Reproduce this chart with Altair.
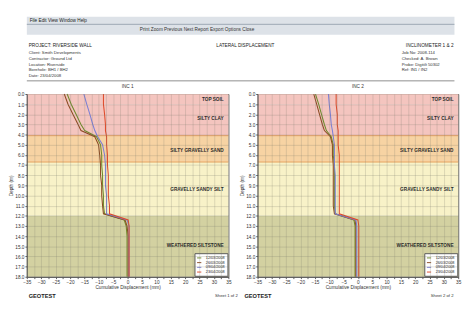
import altair as alt
import pandas as pd

# ---------------- data ----------------
layer_names = ["TOP SOIL", "SILTY CLAY", "SILTY GRAVELLY SAND", "GRAVELLY SANDY SILT", "WEATHERED SILTSTONE"]
layer_top = [0.0, 1.0, 4.1, 6.7, 12.0]
layer_bottom = [1.0, 4.1, 6.7, 12.0, 18.0]
layer_colors = ["#f4c5bf", "#f4c5bf", "#f7d3a3", "#f8f2c8", "#d3d1a1"]
label_depth = [0.5, 2.4, 5.5, 9.4, 14.9]
boundary_depths = [4.1, 6.7]

depths = [0, 1, 2, 3, 3.6, 4.2, 5, 6, 7, 8, 9, 10, 11, 11.8, 12.4, 13, 14, 15, 16, 17, 18]
series_names = ["12/03/2008", "26/03/2008", "09/04/2008", "23/04/2008"]
series_colors = ["#6f8a2c", "#8c4a22", "#7b7fd6", "#e04a2a"]

left_green = [-21.0, -19.6, -17.9, -16.2, -14.9, -10.8, -9.4, -9.0, -9.0, -8.7, -8.7, -8.4, -8.4, -8.0, -1.2, -0.5, -0.2, -0.2, -0.2, -0.2, -0.2]
left_brown = [-22.0, -20.7, -19.0, -17.2, -16.2, -11.4, -10.1, -9.7, -9.4, -9.4, -9.0, -9.0, -8.7, -8.4, -0.9, -0.2, 0.2, 0.2, 0.2, 0.2, 0.2]
left_blue = [-15.2, -14.2, -13.1, -12.1, -11.4, -10.4, -8.7, -8.0, -7.7, -7.7, -7.7, -7.3, -7.3, -7.3, -0.2, 0.5, 0.5, 0.5, 0.5, 0.5, 0.5]
left_red = [-8.4, -8.4, -8.0, -7.7, -7.7, -7.3, -7.3, -7.0, -7.0, -6.7, -6.7, -6.7, -6.3, -6.3, 0.2, 0.5, 0.5, 0.5, 0.5, 0.5, 0.5]

right_green = [-14.8, -13.7, -12.7, -11.7, -11.0, -9.3, -8.6, -8.6, -8.2, -8.2, -8.2, -8.2, -8.2, -7.9, -1.4, -1.0, -1.0, -1.0, -1.0, -1.0, -1.0]
right_brown = [-15.4, -14.4, -13.4, -12.4, -11.7, -9.6, -8.9, -8.9, -8.6, -8.6, -8.6, -8.6, -8.6, -8.2, -1.0, -0.7, -0.7, -0.7, -0.7, -0.7, -0.7]
right_blue = [-10.3, -10.0, -9.6, -9.3, -8.9, -8.6, -8.2, -8.2, -8.2, -7.9, -7.9, -7.9, -7.9, -7.9, -0.7, -0.4, -0.4, -0.4, -0.4, -0.4, -0.4]
right_red = [-7.6, -7.6, -7.2, -7.2, -6.9, -6.9, -6.9, -6.5, -6.5, -6.5, -6.5, -6.5, -6.5, -6.5, 0.0, 0.3, 0.3, 0.3, 0.3, 0.3, 0.3]

x_domain = [-35, 35]
x_tick_values = [v / 2 for v in range(-70, 71, 5)]
y_tick_values = list(range(0, 19))

panel_titles = ["INC 1", "INC 2"]
x_title = "Cumulative Displacement (mm)"
y_title = "Depth (m)"

menu_text = "File   Edit   View   Window   Help"
toolbar_text = "Print      Zoom      Previous      Next      Report      Export      Options      Close"
header_left_title = "PROJECT: RIVERSIDE WALL"
header_left_lines = "Client: Smith Developments\nContractor: Ground Ltd\nLocation: Riverside\nBorehole: BH1 / BH2\nDate: 23/04/2008"
header_center = "LATERAL DISPLACEMENT"
header_right_title = "INCLINOMETER 1 & 2"
header_right_lines = "Job No: 2008-114\nChecked: A. Brown\nProbe: Digitilt 50302\nRef: IN1 / IN2"
footer_left = ["GEOTEST", "GEOTEST"]
footer_right = ["Sheet 1 of 2", "Sheet 2 of 2"]

PW = [214, 213]
PH = 194

bands_df = pd.DataFrame({"layer": layer_names, "top": layer_top, "bottom": layer_bottom,
                         "fillc": layer_colors, "ld": label_depth})
bound_df = pd.DataFrame({"d": boundary_depths})


def series_df(cols):
    rows = []
    for name, vals in zip(series_names, cols):
        for d, v in zip(depths, vals):
            rows.append({"series": name, "depth": d, "disp": v})
    return pd.DataFrame(rows)


yscale = alt.Scale(domain=[0, 18], reverse=True, nice=False)
xscale = alt.Scale(domain=x_domain, nice=False)

axis_common = dict(labelFontSize=5, titleFontSize=5, tickSize=2, labelPadding=1, titlePadding=1,
                   gridColor="#7a7a6a", gridOpacity=0.4, gridWidth=0.6, domainColor="#555",
                   tickColor="#555", labelColor="#333", titleColor="#333", zindex=1,
                   titleFontWeight="normal", labelOverlap=False, labelBound=False, labelFlush=False)

yaxis = alt.Axis(values=y_tick_values, format=".1f", **axis_common)


def panel(i, cols):
    W = PW[i]
    bands = alt.Chart(bands_df).mark_rect().encode(
        y=alt.Y("top:Q", scale=yscale, title=y_title, axis=yaxis),
        y2="bottom:Q",
        x=alt.value(0), x2=alt.value(W),
        fill=alt.Fill("fillc:N", scale=None),
    )
    rules = alt.Chart(bound_df).mark_rule(color="#e39a52", strokeWidth=1, opacity=0.9).encode(
        y=alt.Y("d:Q", scale=yscale, title=y_title, axis=yaxis), x=alt.value(0), x2=alt.value(W))
    labels = alt.Chart(bands_df).mark_text(align="right", baseline="middle", fontSize=5,
                                           fontWeight="bold", color="#2a2a2a", dx=-5).encode(
        y=alt.Y("ld:Q", scale=yscale, title=y_title, axis=yaxis), x=alt.value(W), text="layer:N")
    lines = alt.Chart(series_df(cols)).mark_line(strokeWidth=1.1).encode(
        x=alt.X("disp:Q", scale=xscale, title=x_title,
                axis=alt.Axis(values=x_tick_values,
                              labelExpr="datum.value % 5 == 0 ? datum.label : ''",
                              **axis_common)),
        y=alt.Y("depth:Q", scale=yscale, title=y_title, axis=yaxis),
        color=alt.Color("series:N", scale=alt.Scale(domain=series_names, range=series_colors),
                        legend=alt.Legend(title=None, orient="bottom-right", fillColor="white",
                                          strokeColor="#555", padding=2, labelFontSize=4,
                                          symbolType="stroke", symbolSize=20, symbolStrokeWidth=1,
                                          rowPadding=0, offset=1, labelColor="#222")),
        order="depth:Q",
    )
    return alt.layer(bands, rules, labels, lines).properties(
        width=W, height=PH,
        title=alt.TitleParams(panel_titles[i], fontSize=5, offset=3, color="#333", fontWeight="normal"))


left = panel(0, [left_green, left_brown, left_blue, left_red])
right = panel(1, [right_green, right_brown, right_blue, right_red])

panels = alt.hconcat(left, right, spacing=7).resolve_scale(color="independent")

one = pd.DataFrame({"a": [0]})
TW = 454

chrome = alt.layer(
    alt.Chart(one).mark_rect(color="#dde2e8").encode(x=alt.value(0), x2=alt.value(TW), y=alt.value(0), y2=alt.value(19)),
    alt.Chart(one).mark_rule(color="#9aa6b3").encode(x=alt.value(0), x2=alt.value(TW), y=alt.value(8)),
    alt.Chart(one).mark_text(align="left", baseline="middle", fontSize=5, color="#222").encode(
        x=alt.value(3), y=alt.value(4), text=alt.value(menu_text)),
    alt.Chart(one).mark_text(align="left", baseline="middle", fontSize=5, color="#333").encode(
        x=alt.value(120), y=alt.value(13.5), text=alt.value(toolbar_text)),
).properties(width=TW, height=19, view=alt.ViewBackground(stroke=None))

header = alt.layer(
    alt.Chart(one).mark_text(align="left", baseline="middle", fontSize=5, color="#222").encode(
        x=alt.value(2), y=alt.value(11), text=alt.value(header_left_title)),
    alt.Chart(one).mark_text(align="left", baseline="top", fontSize=4.5, color="#333", lineBreak="\n", lineHeight=6).encode(
        x=alt.value(2), y=alt.value(17), text=alt.value(header_left_lines)),
    alt.Chart(one).mark_text(align="center", baseline="middle", fontSize=5, color="#222").encode(
        x=alt.value(232), y=alt.value(11), text=alt.value(header_center)),
    alt.Chart(one).mark_text(align="right", baseline="middle", fontSize=5, color="#222").encode(
        x=alt.value(TW - 1), y=alt.value(11), text=alt.value(header_right_title)),
    alt.Chart(one).mark_text(align="left", baseline="top", fontSize=4.5, color="#333", lineBreak="\n", lineHeight=6).encode(
        x=alt.value(398), y=alt.value(17), text=alt.value(header_right_lines)),
    alt.Chart(one).mark_rule(color="#888").encode(x=alt.value(0), x2=alt.value(TW), y=alt.value(49)),
).properties(width=TW, height=52, view=alt.ViewBackground(stroke=None))

footer = alt.layer(
    alt.Chart(one).mark_text(align="left", baseline="middle", fontSize=6, fontWeight="bold", color="#222").encode(
        x=alt.value(2), y=alt.value(6), text=alt.value(footer_left[0])),
    alt.Chart(one).mark_text(align="right", baseline="middle", fontSize=4.5, color="#333").encode(
        x=alt.value(224), y=alt.value(6), text=alt.value(footer_right[0])),
    alt.Chart(one).mark_text(align="left", baseline="middle", fontSize=6, fontWeight="bold", color="#222").encode(
        x=alt.value(231), y=alt.value(6), text=alt.value(footer_left[1])),
    alt.Chart(one).mark_text(align="right", baseline="middle", fontSize=4.5, color="#333").encode(
        x=alt.value(TW - 1), y=alt.value(6), text=alt.value(footer_right[1])),
).properties(width=TW, height=12, view=alt.ViewBackground(stroke=None))

chart = alt.vconcat(chrome, header, panels, footer, spacing=0).configure(
    font="Liberation Sans", background="white", padding=0
).configure_view(stroke="#555")

chart.save("out.html", embed_options={"renderer": "svg", "actions": False})
